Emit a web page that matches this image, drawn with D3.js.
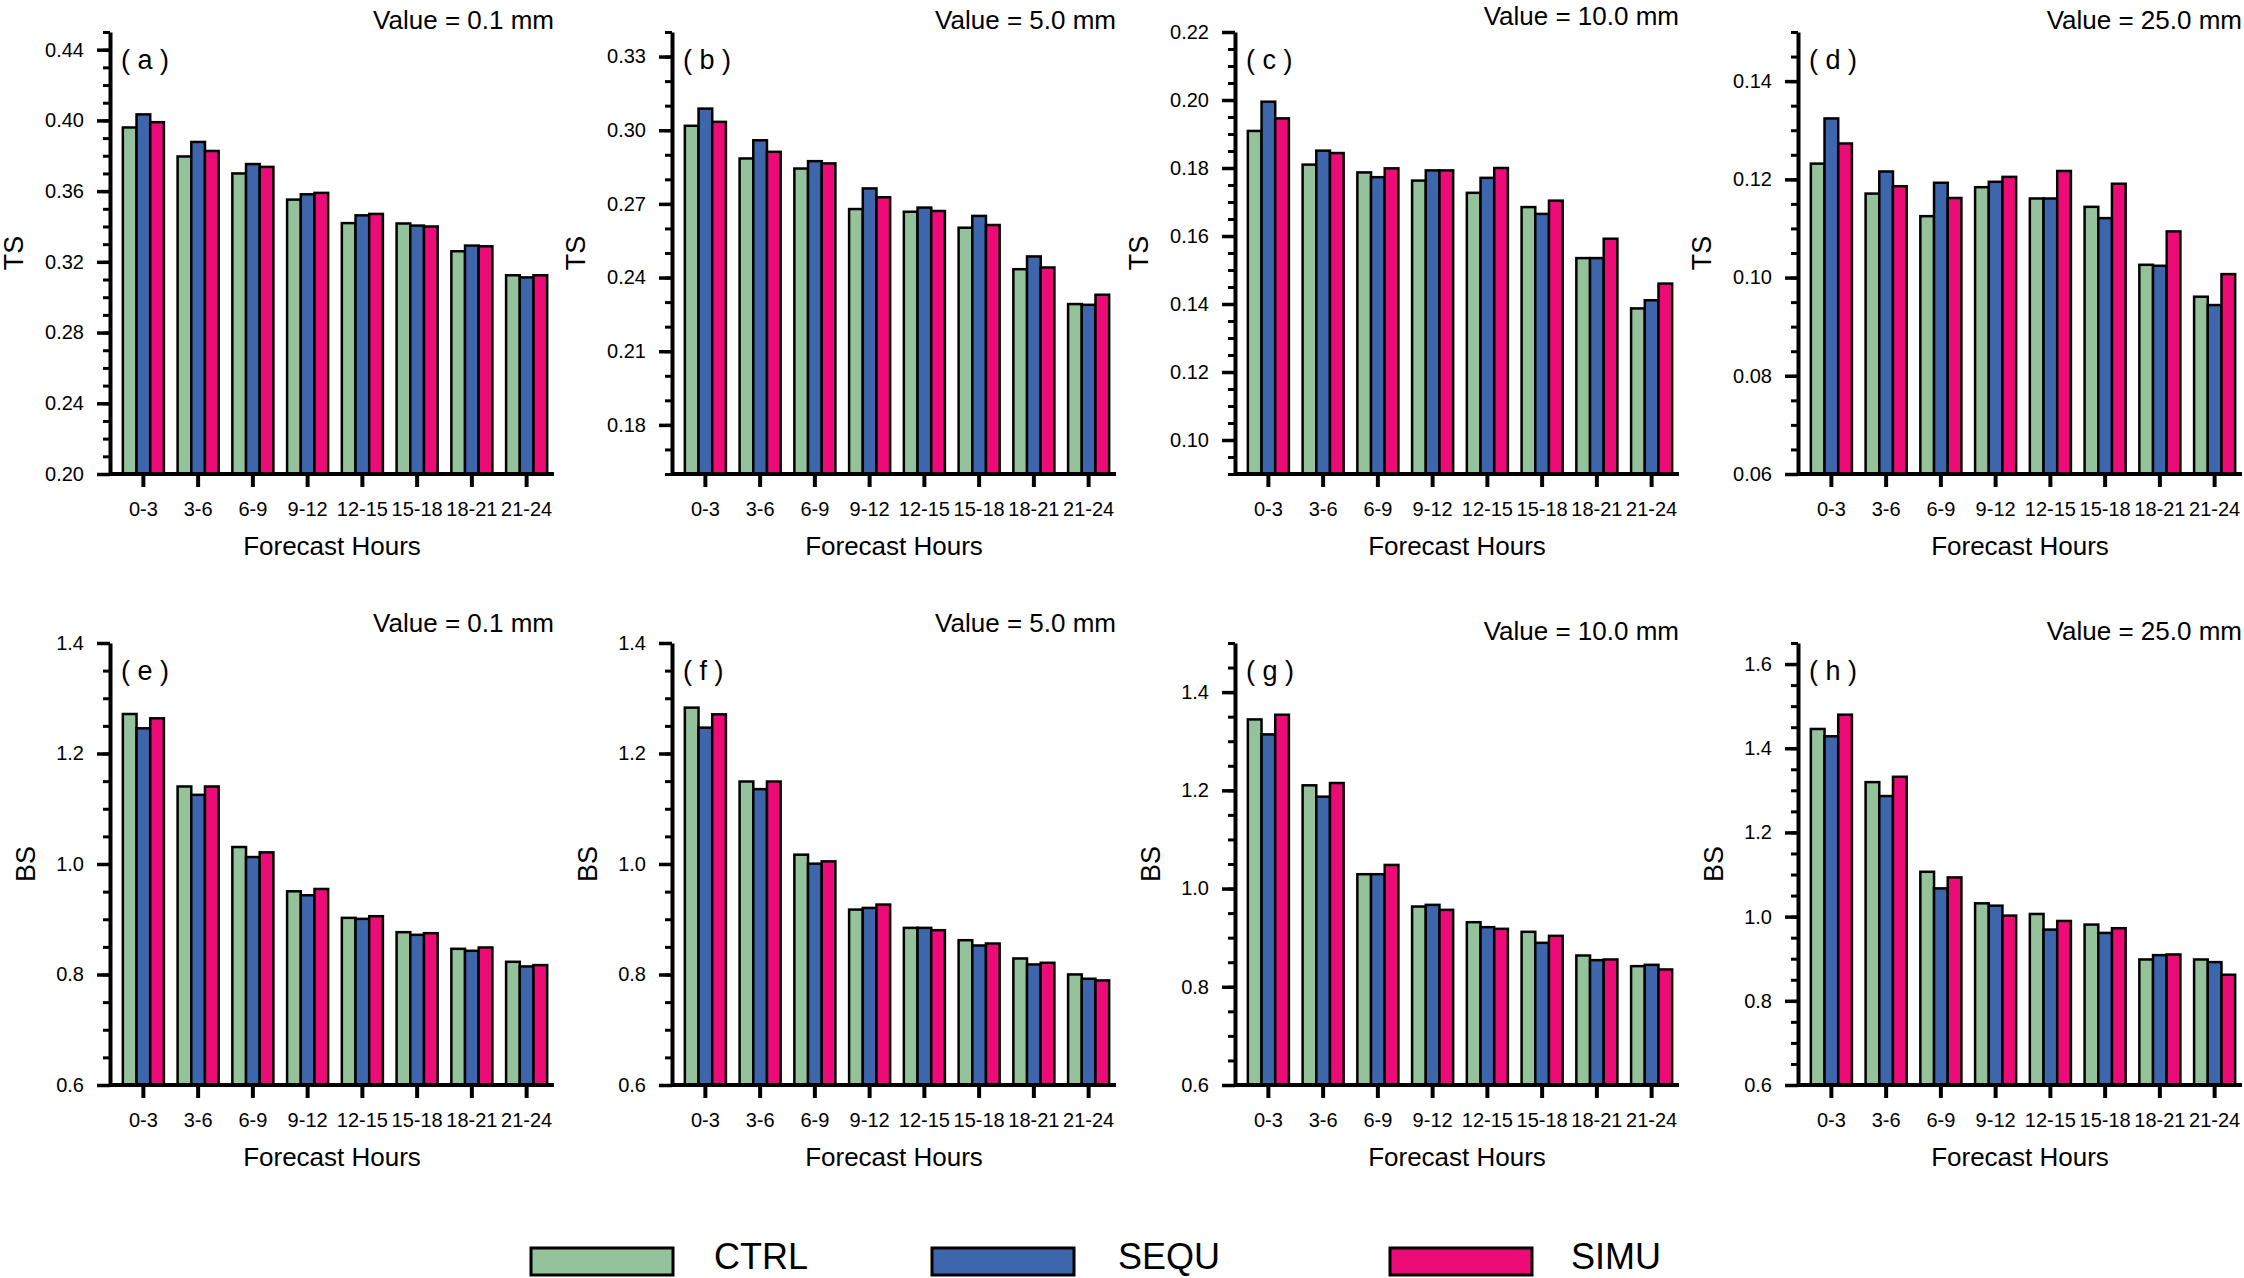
<!DOCTYPE html>
<html>
<head>
<meta charset="UTF-8">
<script src="https://cdn.jsdelivr.net/npm/d3@7/dist/d3.min.js"></script>
<style>
  body { margin: 0; background: white; }
  svg { display: block; font-family: "Liberation Sans", Arial, sans-serif; }
  .axis text { font-size: 20px; fill: black; }
  .axis path, .axis line { stroke: black; }
</style>
</head>
<body>
<div id="chart"></div>
<script>
const hours = ["0-3", "3-6", "6-9", "9-12", "12-15", "15-18", "18-21", "21-24"];
const runs = ["CTRL", "SEQU", "SIMU"];
const runColors = ["#94c29a", "#3d66ad", "#ec0b77"];
const thresholds = ["0.1", "5.0", "10.0", "25.0"];

// rows: CTRL, SEQU, SIMU
const tsA = [
  [0.3960, 0.3796, 0.3700, 0.3552, 0.3419, 0.3417, 0.3260, 0.3124],
  [0.4034, 0.3878, 0.3753, 0.3582, 0.3463, 0.3405, 0.3292, 0.3112],
  [0.3990, 0.3827, 0.3737, 0.3590, 0.3471, 0.3400, 0.3288, 0.3124]
];
const tsB = [
  [0.3018, 0.2885, 0.2844, 0.2679, 0.2668, 0.2603, 0.2434, 0.2292],
  [0.3088, 0.2959, 0.2874, 0.2763, 0.2685, 0.2651, 0.2486, 0.2289],
  [0.3034, 0.2912, 0.2865, 0.2727, 0.2671, 0.2614, 0.2441, 0.2330]
];
const tsC = [
  [0.1909, 0.1810, 0.1787, 0.1763, 0.1727, 0.1685, 0.1535, 0.1387],
  [0.1995, 0.1851, 0.1773, 0.1793, 0.1771, 0.1665, 0.1535, 0.1411],
  [0.1946, 0.1844, 0.1799, 0.1793, 0.1800, 0.1704, 0.1592, 0.1460]
];
const tsD = [
  [0.1232, 0.1171, 0.1125, 0.1184, 0.1161, 0.1144, 0.1026, 0.0961],
  [0.1324, 0.1216, 0.1193, 0.1195, 0.1161, 0.1121, 0.1024, 0.0944],
  [0.1273, 0.1186, 0.1162, 0.1205, 0.1217, 0.1191, 0.1094, 0.1007]
];
const bsE = [
  [1.2715, 1.1403, 1.0307, 0.9506, 0.9025, 0.8766, 0.8465, 0.8230],
  [1.2456, 1.1252, 1.0126, 0.9434, 0.9007, 0.8718, 0.8429, 0.8146],
  [1.2637, 1.1403, 1.0211, 0.9548, 0.9055, 0.8748, 0.8489, 0.8170]
];
const bsF = [
  [1.2830, 1.1493, 1.0169, 0.9175, 0.8844, 0.8621, 0.8290, 0.8001],
  [1.2468, 1.1355, 1.0006, 0.9205, 0.8844, 0.8525, 0.8182, 0.7923],
  [1.2709, 1.1493, 1.0048, 0.9266, 0.8802, 0.8561, 0.8212, 0.7893]
];
const bsG = [
  [1.3444, 1.2102, 1.0292, 0.9634, 0.9315, 0.9119, 0.8637, 0.8420],
  [1.3139, 1.1871, 1.0292, 0.9668, 0.9214, 0.8895, 0.8542, 0.8447],
  [1.3539, 1.2149, 1.0481, 0.9566, 0.9180, 0.9037, 0.8556, 0.8353]
];
const bsH = [
  [1.4458, 1.3195, 1.1065, 1.0316, 1.0063, 0.9811, 0.8982, 0.8982],
  [1.4284, 1.2864, 1.0671, 1.0260, 0.9692, 0.9613, 0.9085, 0.8919],
  [1.4797, 1.3322, 1.0931, 1.0024, 0.9897, 0.9724, 0.9101, 0.8619]
];

const ticksA = [0.20, 0.24, 0.28, 0.32, 0.36, 0.40, 0.44];
const ticksB = [0.18, 0.21, 0.24, 0.27, 0.30, 0.33];
const ticksC = [0.10, 0.12, 0.14, 0.16, 0.18, 0.20, 0.22];
const ticksD = [0.06, 0.08, 0.10, 0.12, 0.14];
const ticksBS = [0.6, 0.8, 1.0, 1.2, 1.4];
const ticksH = [0.6, 0.8, 1.0, 1.2, 1.4, 1.6];

const panels = [
  { tag: "a", name: "TS", values: tsA, domain: [0.20, 0.45], ticks: ticksA, minor: 0.01, fmt: ".2f" },
  { tag: "b", name: "TS", values: tsB, domain: [0.16, 0.34], ticks: ticksB, minor: 0.01, fmt: ".2f" },
  { tag: "c", name: "TS", values: tsC, domain: [0.09, 0.22], ticks: ticksC, minor: 0.005, fmt: ".2f" },
  { tag: "d", name: "TS", values: tsD, domain: [0.06, 0.15], ticks: ticksD, minor: 0.005, fmt: ".2f" },
  { tag: "e", name: "BS", values: bsE, domain: [0.6, 1.4], ticks: ticksBS, minor: 0.05, fmt: ".1f" },
  { tag: "f", name: "BS", values: bsF, domain: [0.6, 1.4], ticks: ticksBS, minor: 0.05, fmt: ".1f" },
  { tag: "g", name: "BS", values: bsG, domain: [0.6, 1.5], ticks: ticksBS, minor: 0.05, fmt: ".1f" },
  { tag: "h", name: "BS", values: bsH, domain: [0.6, 1.65], ticks: ticksH, minor: 0.05, fmt: ".1f" }
];

const W = 2244, H = 1278;
const colX = [110, 672, 1235, 1798];
const rowY = [32, 643];
const plotW = 444, plotH = 442;
const titleDy = [-12, -12, -16, -12, -20, -20, -12, -12];

const svg = d3.select("#chart").append("svg")
  .attr("width", W)
  .attr("height", H);

panels.forEach((p, i) => {
  const col = i % 4, row = Math.floor(i / 4);
  const g = svg.append("g")
    .attr("transform", `translate(${colX[col]},${rowY[row]})`);

  const y = d3.scaleLinear().domain(p.domain).range([plotH, 0]);
  const x = d3.scaleBand().domain(hours).range([6, plotW]);
  const xs = d3.scaleBand().domain(runs)
    .range([-0.375 * x.step(), 0.375 * x.step()]);

  const rows = hours.flatMap((h, j) => runs.map((r, k) => ({ h, r, k, v: p.values[k][j] })));

  g.selectAll("rect.bar")
    .data(rows)
    .enter()
    .append("rect")
    .attr("class", "bar")
    .attr("x", d => x(d.h) + x.bandwidth() / 2 + xs(d.r))
    .attr("y", d => y(d.v))
    .attr("width", xs.bandwidth())
    .attr("height", d => plotH - y(d.v))
    .attr("fill", d => runColors[d.k])
    .attr("stroke", "black")
    .attr("stroke-width", 2.5);

  // minor ticks on y
  const minors = d3.range(p.domain[0], p.domain[1] + p.minor / 2, p.minor);
  g.append("g")
    .attr("class", "axis")
    .call(d3.axisLeft(y).tickValues(minors).tickSize(7).tickSizeOuter(0).tickFormat(""))
    .call(a => a.selectAll("line").attr("stroke-width", 3))
    .call(a => a.select(".domain").remove());

  g.append("g")
    .attr("class", "axis")
    .call(d3.axisLeft(y).tickValues(p.ticks).tickSize(13).tickSizeOuter(0)
      .tickPadding(13).tickFormat(d3.format(p.fmt)))
    .call(a => a.selectAll("line").attr("stroke-width", 3.5))
    .call(a => a.select(".domain").attr("stroke-width", 4));

  g.append("g")
    .attr("class", "axis")
    .attr("transform", `translate(0,${plotH})`)
    .call(d3.axisBottom(x).tickSize(13).tickSizeOuter(0).tickPadding(15))
    .call(a => a.selectAll("line").attr("stroke-width", 4))
    .call(a => a.select(".domain").remove());

  g.append("line")
    .attr("x1", 0)
    .attr("x2", plotW)
    .attr("y1", plotH)
    .attr("y2", plotH)
    .attr("stroke", "black")
    .attr("stroke-width", 4);

  g.append("text")
    .attr("x", plotW / 2)
    .attr("y", plotH + 72)
    .attr("text-anchor", "middle")
    .attr("dominant-baseline", "central")
    .style("font-size", "26px")
    .text("Forecast Hours");

  g.append("text")
    .attr("transform", `translate(${p.name === "TS" ? -96 : -84},${plotH / 2}) rotate(-90)`)
    .attr("text-anchor", "middle")
    .attr("dominant-baseline", "central")
    .style("font-size", "27px")
    .text(p.name);

  g.append("text")
    .attr("x", plotW)
    .attr("y", titleDy[i])
    .attr("text-anchor", "end")
    .attr("dominant-baseline", "central")
    .style("font-size", "26px")
    .text(`Value = ${thresholds[col]} mm`);

  g.append("text")
    .attr("x", 11)
    .attr("y", 28)
    .attr("dominant-baseline", "central")
    .style("font-size", "27px")
    .style("white-space", "pre")
    .text(`( ${p.tag} )`);
});

// legend
const legendX = [531, 932, 1390];
const legendTextX = [714, 1118, 1571];
const legend = svg.append("g").attr("id", "legend");
runs.forEach((r, k) => {
  legend.append("rect")
    .attr("x", legendX[k])
    .attr("y", 1248)
    .attr("width", 142)
    .attr("height", 27)
    .attr("fill", runColors[k])
    .attr("stroke", "black")
    .attr("stroke-width", 3);
  legend.append("text")
    .attr("x", legendTextX[k])
    .attr("y", 1269)
    .style("font-size", "36px")
    .text(r);
});
</script>
</body>
</html>
